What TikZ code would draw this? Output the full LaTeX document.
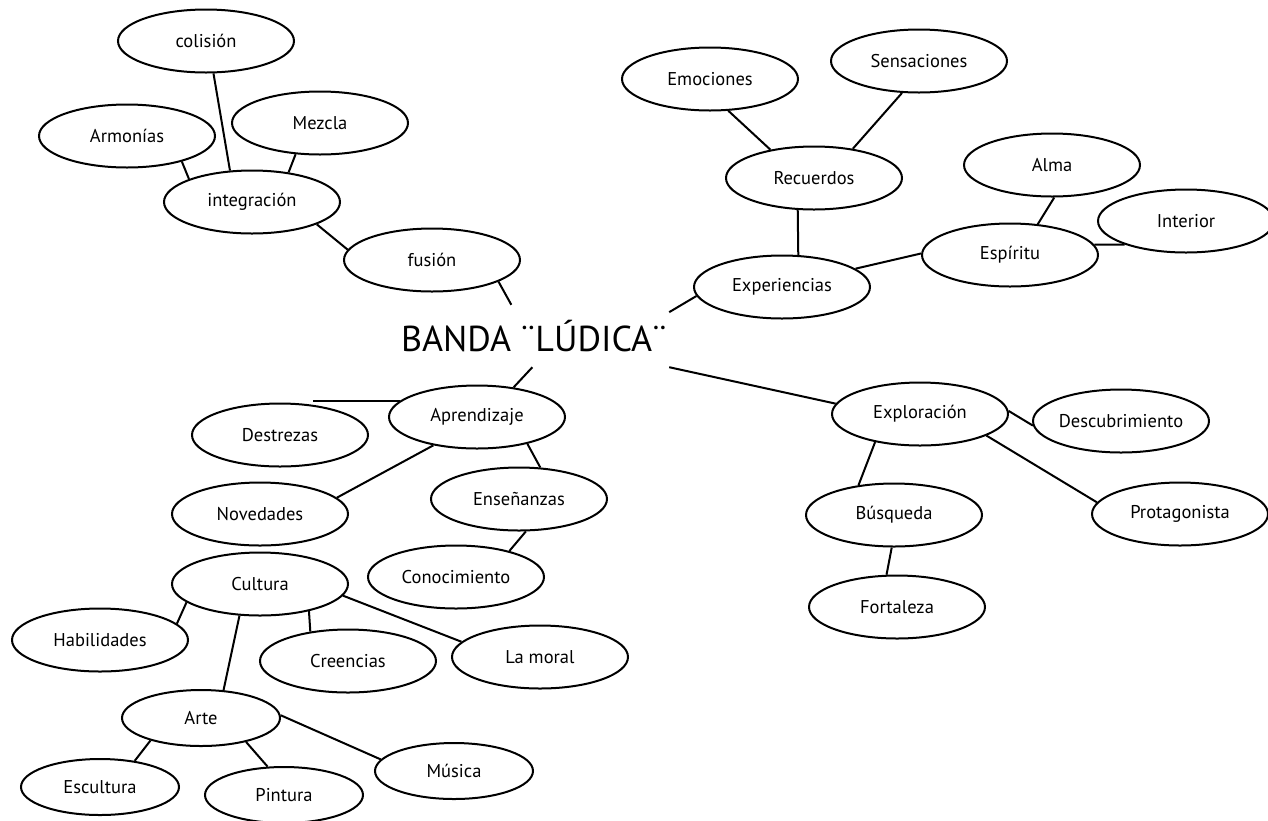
\documentclass[tikz,border=0pt]{standalone}
\usepackage{fontspec}
\setmainfont{PT Sans}
\usetikzlibrary{positioning, shapes}

\begin{document}
\begin{tikzpicture}[
    x=1pt, y=-1pt,
    every node/.style={align=center},
    idea/.style={draw, ellipse, line width=2pt, minimum width=176pt, minimum height=63pt, inner sep=0pt, font=\fontsize{18.5}{22}\selectfont},
    smallidea/.style={idea, minimum width=158pt, minimum height=56pt},
    link/.style={line width=2pt}
]
    \useasboundingbox (0,0) rectangle (1268,820);

    \node (banda) [minimum width=270pt, minimum height=62pt, inner sep=0pt, font=\fontsize{36}{42}\selectfont] at (534,336) {BANDA ¨LÚDICA¨};

    \node (colision) [idea] at (206,41) {colisión};
    \node (armonias) [idea] at (127,136) {Armonías};
    \node (mezcla) [idea] at (320,123) {Mezcla};
    \node (integracion) [idea] at (252,202) {integración};
    \node (fusion) [idea] at (432,260) {fusión};

    \node (emociones) [idea] at (710,79) {Emociones};
    \node (sensaciones) [idea] at (919,61) {Sensaciones};
    \node (recuerdos) [idea] at (814,178) {Recuerdos};
    \node (alma) [idea] at (1052,165) {Alma};
    \node (interior) [idea] at (1186,221) {Interior};
    \node (espiritu) [idea] at (1010,255) {Espíritu};
    \node (experiencias) [idea] at (782,287) {Experiencias};

    \node (exploracion) [idea] at (920,414) {Exploración};
    \node (descubrimiento) [idea] at (1121,421) {Descubrimiento};
    \node (busqueda) [idea] at (894,515) {Búsqueda};
    \node (protagonista) [idea] at (1180,514) {Protagonista};
    \node (fortaleza) [idea] at (897,607) {Fortaleza};

    \node (aprendizaje) [idea] at (477,417) {Aprendizaje};
    \node (destrezas) [idea] at (280,435) {Destrezas};
    \node (novedades) [idea] at (260,514) {Novedades};
    \node (ensenanzas) [idea] at (519,499) {Enseñanzas};
    \node (conocimiento) [idea] at (456,577) {Conocimiento};

    \node (cultura) [idea] at (260,584) {Cultura};
    \node (habilidades) [idea] at (100,640) {Habilidades};
    \node (creencias) [idea] at (348,661) {Creencias};
    \node (moral) [idea] at (540,657) {La moral};
    \node (arte) [smallidea] at (201,718) {Arte};
    \node (escultura) [smallidea] at (100,787) {Escultura};
    \node (pintura) [smallidea] at (284,795) {Pintura};
    \node (musica) [smallidea] at (454,771) {Música};

    \draw [link] (colision.-77) -- (integracion.125);
    \draw [link] (armonias.-25) -- (integracion.160);
    \draw [link] (mezcla.-128) -- (integracion.39);
    \draw [link] (integracion.-19) -- (fusion.173);
    \draw [link] (fusion.-18) -- (banda.126);

    \draw [link] (experiencias.-174) -- (banda.10);
    \draw [link] (recuerdos.-117) -- (experiencias.63);
    \draw [link] (emociones.-60) -- (recuerdos.147);
    \draw [link] (sensaciones.-118) -- (recuerdos.37);
    \draw [link] (experiencias.14) -- (espiritu.179);
    \draw [link] (alma.-86) -- (espiritu.48);
    \draw [link] (espiritu.7) -- (interior.-159);

    \draw [link] (banda.-13) -- (exploracion.173);
    \draw [link] (exploracion.2) -- (descubrimiento.183);
    \draw [link] (exploracion.-148) -- (busqueda.140);
    \draw [link] (exploracion.-18) -- (protagonista.172);
    \draw [link] (busqueda.-94) -- (fortaleza.108);

    \draw [link] (banda.-93) -- (aprendizaje.39);
    \draw [link] (destrezas.42 |- aprendizaje.168) -- (aprendizaje.168);
    \draw [link] (aprendizaje.-147) -- (novedades.12);
    \draw [link] (aprendizaje.-28) -- (ensenanzas.56);
    \draw [link] (ensenanzas.-78) -- (conocimiento.26);

    \draw [link] (cultura.-166) -- (habilidades.12);
    \draw [link] (cultura.-123) -- (arte.51);
    \draw [link] (cultura.-29) -- (creencias.142);
    \draw [link] (cultura.-8) -- (moral.169);
    \draw [link] (arte.-156) -- (escultura.37);
    \draw [link] (arte.-28) -- (pintura.120);
    \draw [link] (arte.2) -- (musica.171);
\end{tikzpicture}
\end{document}
